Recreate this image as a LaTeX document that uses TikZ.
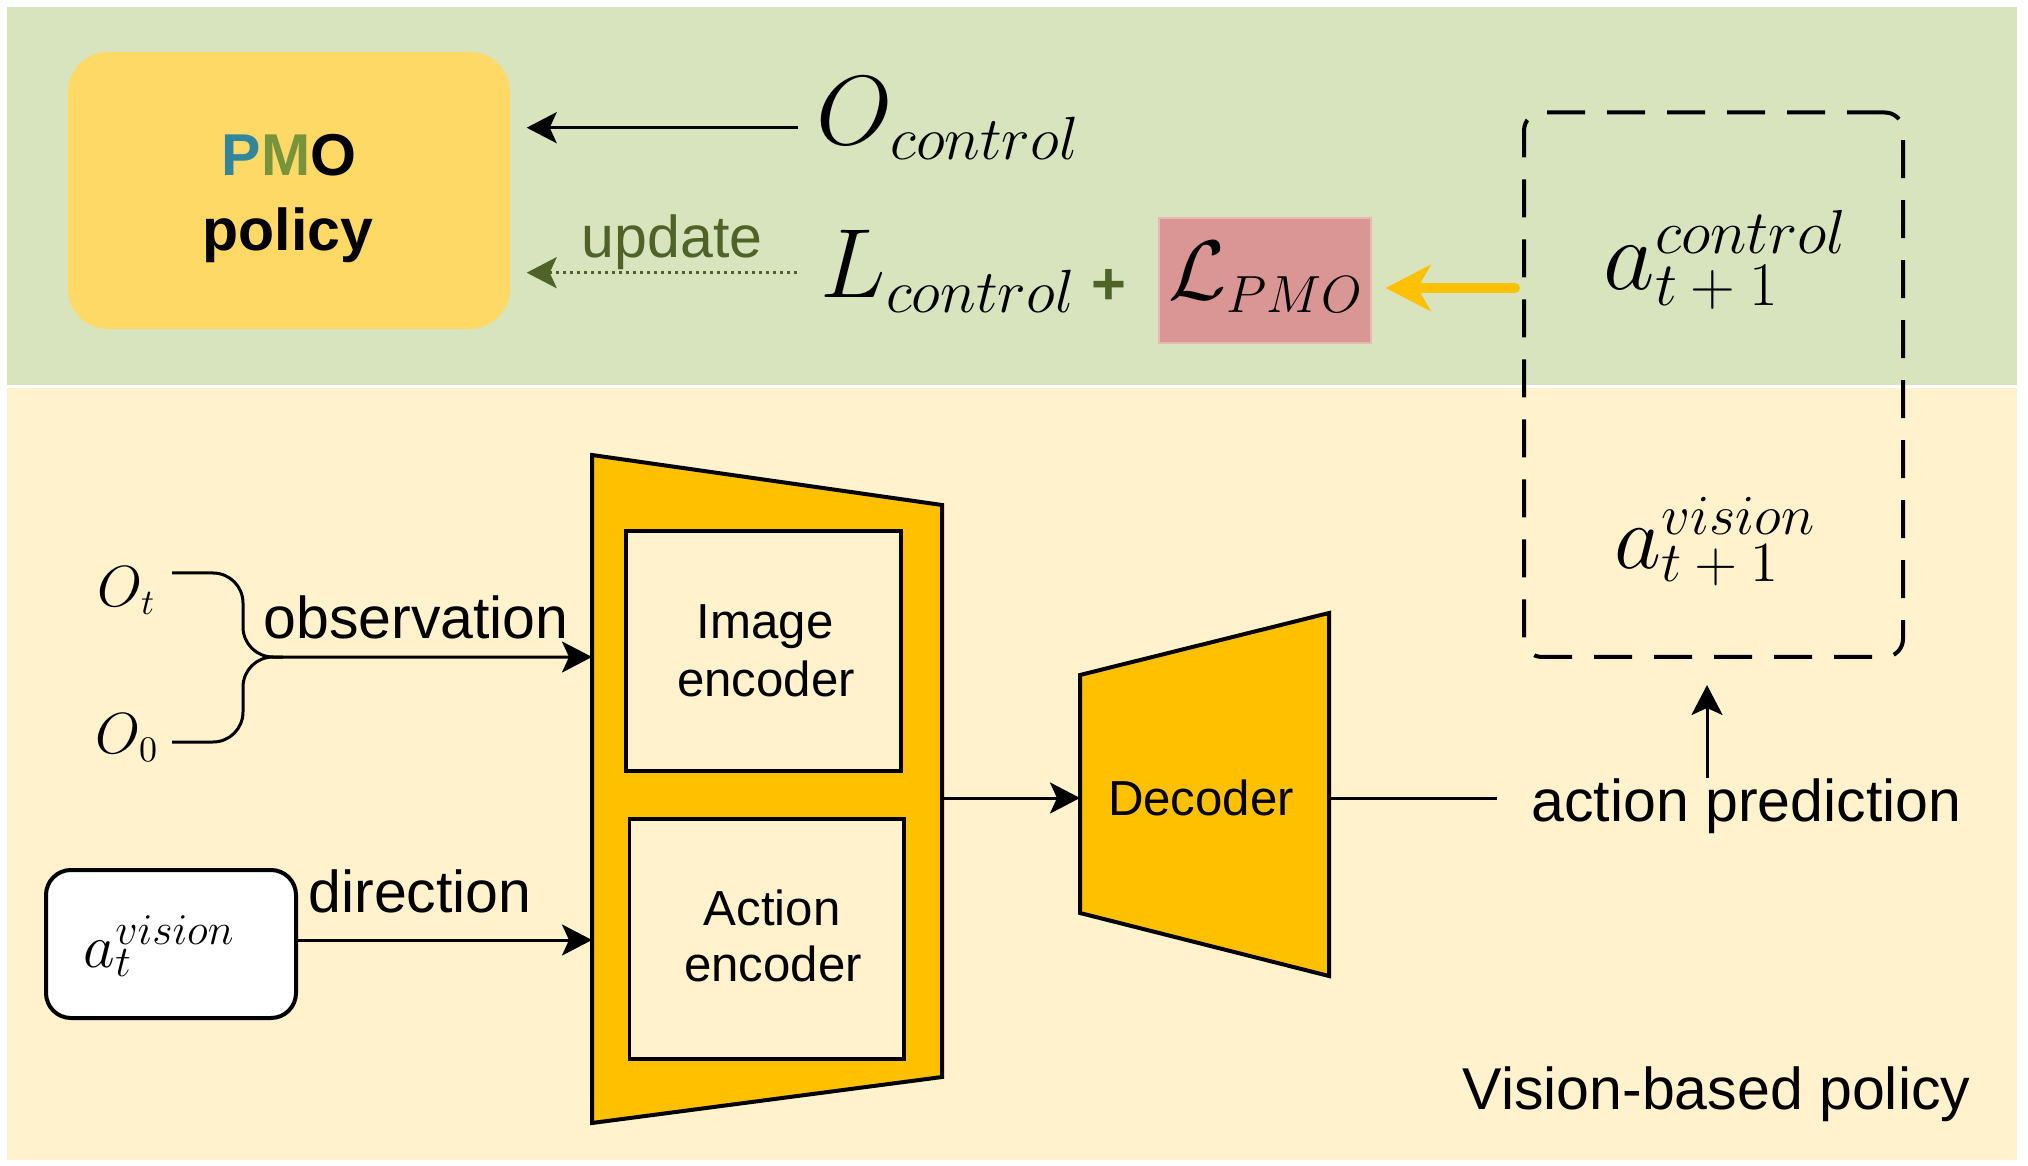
\RequirePackage{fix-cm}
\documentclass[tikz,border=0pt]{standalone}
\usepackage{mathtools}
\usepackage{fontspec}
\setmainfont{Liberation Sans}
\usetikzlibrary{arrows.meta}
\renewcommand{\defaultscriptratio}{.62}
\renewcommand{\defaultscriptscriptratio}{.45}
\DeclareMathSizes{17.5}{17.5}{12.5}{9}
\newcommand{\fs}[1]{\fontsize{#1}{#1}\selectfont}
\newcommand{\tpo}{t\mskip\medmuskip+\mskip\medmuskip 1}
\definecolor{bandgreen}{HTML}{D7E4BD}
\definecolor{bandyellow}{HTML}{FFF2CC}
\definecolor{pmogold}{HTML}{FFD966}
\definecolor{encgold}{HTML}{FFC000}
\definecolor{lossred}{HTML}{D99694}
\definecolor{lossedge}{HTML}{E6B9B8}
\definecolor{olivedark}{HTML}{4F6228}
\definecolor{pmoP}{HTML}{31859C}
\definecolor{pmoM}{HTML}{77933C}
\begin{document}
\begin{tikzpicture}[x=0.1mm,y=-0.1mm,
  arr/.style={line width=0.3mm, -{Stealth[length=3mm,width=3.1mm,inset=0.7mm]}},
  dotarr/.style={draw=olivedark, line width=0.3mm, dash pattern=on 0.3mm off 0.4mm,
    -{Stealth[length=3mm,width=3.1mm,inset=0.7mm]}},
  yarr/.style={draw=encgold, line width=1mm, line cap=round,
    -{Stealth[length=4.5mm,width=4.6mm,inset=1.3mm]}},
  plain/.style={line width=0.3mm},
  shapeline/.style={line width=0.4mm, draw=black, line join=miter},
  lbl/.style={inner sep=0pt, font=\fs{16.8}},
  enclbl/.style={inner sep=0pt, font=\fs{14}},
  mth/.style={inner sep=0pt, anchor=base west},
  innerbox/.style={draw, line width=0.35mm, fill=bandyellow, inner sep=0pt}]

\useasboundingbox (0,0) rectangle (2028,1166);
\fill[white] (0,0) rectangle (2028,1166);
\fill[bandgreen] (7,7) rectangle (2017,385);
\fill[bandyellow] (7,388) rectangle (2017,1160);

% ---------- top band ----------
\node[fill=pmogold, rounded corners=4mm, minimum width=44.2mm, minimum height=27.7mm, inner sep=0pt] (pmo) at (289,190.5) {};
\node[lbl, anchor=base] (pmot) at (289,176) {\bfseries\textcolor{pmoP}{P}\textcolor{pmoM}{M}O};
\node[lbl, anchor=base] (polt) at (288,251) {\bfseries policy};

\node[mth, font=\fs{28}] (ocon) at (816,145) {$O_{control}$};
\node[mth, font=\fs{28}] (lcon) at (820,298) {$L_{control}$};
\node[inner sep=0pt, font=\fs{17}\bfseries, text=olivedark] (plus) at (1109,287) {+};

\node[fill=lossred, draw=lossedge, line width=0.3pt, minimum width=21.2mm, minimum height=12.5mm, inner sep=0pt] (lpmo) at (1265,280.5) {};
\node[mth, font=\fs{24}] (lpmot) at (1168,300) {$\mathcal{L}_{PMO}$};

\node[lbl, anchor=base, text=olivedark] (upd) at (672,258) {update};

\coordinate (ocs) at (797.6,127.7);
\coordinate (ups) at (797,272.7);
\draw[arr, shorten >=1.6mm] (ocs) -- (pmo.east |- ocs);
\draw[dotarr, shorten >=1.6mm] (ups) -- (pmo.east |- ups);

\node[draw, line width=0.4mm, dash pattern=on 3.8mm off 2.2mm, rounded corners=1.8mm,
  minimum width=37.9mm, minimum height=54.45mm, inner sep=0pt] (dbox) at (1713.5,384.75) {};
\node[mth, font=\fs{28.5}] (actl) at (1603,290) {$a\mathrlap{^{control}}_{\tpo}$};
\node[mth, font=\fs{26}] (avis) at (1614,568) {$a\mathrlap{^{vision}}_{\tpo}$};

\coordinate (ys) at (1515,288);
\draw[yarr, shorten >=1.4mm] (ys) -- (lpmo.east |- ys);

% ---------- bottom band ----------
\draw[shapeline, fill=encgold] (592,455) -- (942,505) -- (942,1077) -- (592,1123) -- cycle;
\coordinate (encin1) at (592,657);
\coordinate (encin2) at (592,940);
\coordinate (encout) at (942,798);
\node[innerbox, minimum width=27.5mm, minimum height=24mm] (imgenc) at (763.5,651) {};
\node[innerbox, minimum width=27.45mm, minimum height=24mm] (actenc) at (766.75,939) {};
\node[enclbl, anchor=base] (imgt1) at (765,639) {Image};
\node[enclbl, anchor=base] (imgt2) at (766,696) {encoder};
\node[enclbl, anchor=base] (actt1) at (772,925) {Action};
\node[enclbl, anchor=base] (actt2) at (773,981) {encoder};

\draw[shapeline, fill=encgold] (1080,675) -- (1329,613) -- (1329,976) -- (1080,913) -- cycle;
\coordinate (decin) at (1080,798);
\coordinate (decout) at (1329,798);
\node[enclbl, anchor=base] (dect) at (1201,815) {Decoder};

\node[mth, font=\fs{16.5}] (ot) at (97,606) {$O_t$};
\node[mth, font=\fs{16.5}] (oz) at (95,753) {$O_0$};
\coordinate (ots) at (172,573);
\coordinate (o0s) at (172,742);
\draw[arr, rounded corners=3mm] (ots) -- (243,573) -- (243,657) -- (encin1);
\draw[plain, rounded corners=3mm] (o0s) -- (243,742) -- (243,657) -- (283,657);
\node[lbl, anchor=base] (obs) at (416,638) {observation};

\node[draw, fill=white, line width=0.4mm, rounded corners=2.5mm, minimum width=25mm, minimum height=14.8mm, inner sep=0pt] (atbox) at (171,944) {};
\node[mth, font=\fs{17.5}] (atv) at (83,967) {$a\mathrlap{^{vision}}_{t}$};
\draw[arr] (atbox.east |- encin2) -- (encin2);
\node[lbl, anchor=base] (dir) at (420,912) {direction};

\draw[arr] (encout) -- (decin);
\coordinate (apl) at (1497,798);
\draw[plain] (decout) -- (apl);
\node[lbl, anchor=base] (ap) at (1746.5,821) {action prediction};
\coordinate (upx) at (1707,0);
\draw[arr, shorten >=2.6mm] (ap.north -| upx) -- (dbox.south -| upx);

\node[lbl, anchor=base] (vbp) at (1716.5,1109) {Vision-based policy};
\end{tikzpicture}
\end{document}
